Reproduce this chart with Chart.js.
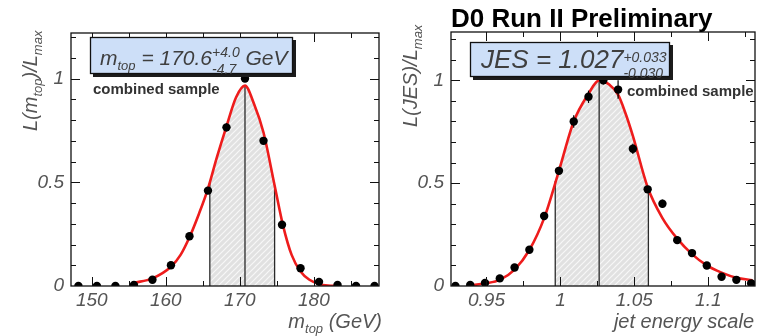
<!DOCTYPE html>
<html>
<head>
<meta charset="utf-8">
<title>D0 top mass / JES likelihood</title>
<script src="https://cdn.jsdelivr.net/npm/chart.js@4.4.1/dist/chart.umd.min.js"></script>
<style>
    html, body { margin: 0; padding: 0; background: #fff; }
    #wrap { position: relative; width: 762px; height: 336px; overflow: hidden; }
    .panel { position: absolute; top: 0; height: 336px; }
    #left { left: 0; width: 390px; }
    #right { left: 390px; width: 372px; }
</style>
</head>
<body>
<div id="wrap">
    <div class="panel" id="left"><canvas id="massChart" width="390" height="336"></canvas></div>
    <div class="panel" id="right"><canvas id="jesChart" width="372" height="336"></canvas></div>
</div>
<script>
// ---- data ----
// left panel: top mass likelihood
const massPoints = [148.2, 150.7, 153.2, 155.7, 158.2, 160.7, 163.2, 165.7, 168.2, 170.7, 173.2, 175.7, 178.2, 180.7, 183.2, 185.7, 188.2];
const massLikelihood = [0, 0, 0, 0.005, 0.03, 0.10, 0.24, 0.46, 0.765, 1.0, 0.70, 0.295, 0.086, 0.02, 0.005, 0, 0];
const massErrors = [0, 0, 0, 0, 0, 0, 0, 0, 0.02, 0, 0.01, 0, 0, 0, 0, 0, 0];
const massCurveX = [155.7, 158.2, 160.7, 162.0, 163.2, 164.5, 165.7, 166.9, 168.2, 169.5, 170.7, 171.9, 173.2, 174.7, 175.85, 177.0, 178.2, 179.4, 180.7, 181.9, 183.2];
const massCurveY = [0.015, 0.037, 0.093, 0.15, 0.235, 0.35, 0.47, 0.62, 0.77, 0.91, 0.966, 0.88, 0.74, 0.485, 0.29, 0.15, 0.07, 0.03, 0.01, 0.002, 0];
const massBand = [165.95, 170.7, 174.7];        // lower, central, upper
const massBandTop = [0.50, 0.966, 0.485];
const massTickLabels = [150, 160, 170, 180];

// right panel: jet energy scale likelihood
const jesPoints = [0.929, 0.939, 0.949, 0.959, 0.969, 0.979, 0.989, 0.999, 1.009, 1.019, 1.029, 1.039, 1.049, 1.059, 1.069, 1.079, 1.089, 1.099, 1.109, 1.119, 1.129];
const jesLikelihood = [0, 0.005, 0.015, 0.037, 0.09, 0.176, 0.34, 0.56, 0.80, 0.92, 1.0, 0.955, 0.667, 0.47, 0.40, 0.223, 0.16, 0.10, 0.045, 0.03, 0.013];
const jesErrors = [0, 0, 0, 0.01, 0.01, 0.01, 0.015, 0.02, 0.03, 0.03, 0.02, 0.045, 0.025, 0.015, 0.02, 0.015, 0.01, 0.01, 0.01, 0.01, 0.01];
const jesCurveX = [0.939, 0.949, 0.959, 0.969, 0.979, 0.989, 0.999, 1.009, 1.019, 1.0262, 1.033, 1.039, 1.044, 1.049, 1.059, 1.069, 1.079, 1.089, 1.099, 1.109, 1.119, 1.13];
const jesCurveY = [0.002, 0.013, 0.03, 0.08, 0.175, 0.33, 0.56, 0.80, 0.935, 1.0, 0.98, 0.93, 0.84, 0.73, 0.48, 0.33, 0.23, 0.155, 0.10, 0.065, 0.04, 0.028];
const jesBand = [0.9965, 1.0262, 1.0595];
const jesBandTop = [0.51, 1.0, 0.47];
const jesTickLabels = [0.95, 1, 1.05, 1.1];

const likelihoodTickLabels = [0, 0.5, 1];

// ---- style ----
const FONT = "'Liberation Sans', Arial, Helvetica, sans-serif";
const LABEL_GREY = '#555';
const TEXT_GREY = '#3f3f3f';
const BOX_BLUE = '#cddff8';
const CURVE_RED = '#ee1c1c';

Chart.defaults.font.family = FONT;

// 斜线阴影填充
function makeHatch() {
    const c = document.createElement('canvas');
    c.width = c.height = 6;
    const g = c.getContext('2d');
    g.fillStyle = '#e1e1e1';
    g.fillRect(0, 0, 6, 6);
    g.strokeStyle = '#f7f7f7';
    g.lineWidth = 1.2;
    g.beginPath();
    g.moveTo(0, 6); g.lineTo(6, 0);
    g.moveTo(-1, 1); g.lineTo(1, -1);
    g.moveTo(5, 7); g.lineTo(7, 5);
    g.stroke();
    return g.createPattern(c, 'repeat');
}

function findLabel(list, v) {
    const hit = list.find(l => Math.abs(l - v) < 1e-6);
    return hit === undefined ? '' : String(hit);
}

function toXY(xs, ys) {
    return xs.map((x, i) => ({ x: x, y: ys[i] }));
}

// shaded band: curve points inside the band plus the read edge heights
function bandData(xs, ys, band, tops) {
    const pts = [{ x: band[0], y: tops[0] }];
    xs.forEach((x, i) => { if (x > band[0] && x < band[2]) pts.push({ x: x, y: ys[i] }); });
    pts.push({ x: band[2], y: tops[2] });
    return pts;
}

// ---- rich text (sub / superscripts) ----
function runsWidth(ctx, runs) {
    let w = 0;
    runs.forEach(r => {
        ctx.font = `${r.weight || ''} ${r.italic === false ? '' : 'italic'} ${r.size}px ${FONT}`;
        if (r.sup !== undefined) {
            w += Math.max(ctx.measureText(r.sup).width, ctx.measureText(r.sub).width);
        } else {
            w += ctx.measureText(r.text).width;
        }
    });
    return w;
}

function drawRuns(ctx, x, y, runs) {
    let cx = x;
    ctx.textAlign = 'left';
    ctx.textBaseline = 'alphabetic';
    runs.forEach(r => {
        ctx.font = `${r.weight || ''} ${r.italic === false ? '' : 'italic'} ${r.size}px ${FONT}`;
        if (r.sup !== undefined) {
            ctx.fillText(r.sup, cx, y + r.supDy);
            ctx.fillText(r.sub, cx, y + r.subDy);
            cx += Math.max(ctx.measureText(r.sup).width, ctx.measureText(r.sub).width);
        } else {
            ctx.fillText(r.text, cx, y + (r.dy || 0));
            cx += ctx.measureText(r.text).width;
        }
    });
    return cx;
}

function drawRunsUp(ctx, x, y, runs) {
    ctx.save();
    ctx.translate(x, y);
    ctx.rotate(-Math.PI / 2);
    drawRuns(ctx, 0, 0, runs);
    ctx.restore();
}

function drawBox(ctx, x, y, w, h) {
    ctx.fillStyle = '#1c1c1c';
    ctx.fillRect(x + 3, y + 3, w, h);
    ctx.fillStyle = BOX_BLUE;
    ctx.fillRect(x, y, w, h);
    ctx.strokeStyle = '#111';
    ctx.lineWidth = 1.3;
    ctx.strokeRect(x + 0.5, y + 0.5, w - 1, h - 1);
}

// ---- ROOT-style frame with inward ticks and error bars ----
const rootFrame = {
    id: 'rootFrame',
    afterDatasetsDraw(chart) {
        const { ctx, chartArea: a, scales: { x, y } } = chart;
        ctx.save();

        // error bars
        const errs = chart.options.plugins.rootFrame.errors;
        const pts = chart.data.datasets[0].data;
        ctx.strokeStyle = '#000';
        ctx.lineWidth = 1.2;
        pts.forEach((p, i) => {
            if (!errs[i]) return;
            const px = x.getPixelForValue(p.x);
            ctx.beginPath();
            ctx.moveTo(px, y.getPixelForValue(p.y - errs[i]));
            ctx.lineTo(px, y.getPixelForValue(p.y + errs[i]));
            ctx.stroke();
        });

        ctx.beginPath();
        ctx.rect(a.left, a.top, a.width, a.height);
        ctx.clip();
        ctx.strokeStyle = '#111';
        ctx.lineWidth = 1;
        ctx.beginPath();
        x.ticks.forEach(t => {
            const px = Math.round(x.getPixelForValue(t.value)) + 0.5;
            const len = t.label !== '' ? 9 : 5;
            ctx.moveTo(px, a.bottom); ctx.lineTo(px, a.bottom - len);
            ctx.moveTo(px, a.top); ctx.lineTo(px, a.top + len);
        });
        y.ticks.forEach(t => {
            const py = Math.round(y.getPixelForValue(t.value)) + 0.5;
            const len = t.label !== '' ? 9 : 5;
            ctx.moveTo(a.left, py); ctx.lineTo(a.left + len, py);
            ctx.moveTo(a.right, py); ctx.lineTo(a.right - len, py);
        });
        ctx.stroke();
        ctx.restore();

        ctx.save();
        ctx.strokeStyle = '#111';
        ctx.lineWidth = 1.3;
        ctx.strokeRect(a.left, a.top, a.width, a.height);
        ctx.restore();
    }
};

// ---- chart builder ----
function buildPanel(canvasId, cfg) {
    const hatch = makeHatch();
    const vLines = cfg.band.map((bx, i) => ({
        data: [{ x: bx, y: 0 }, { x: bx, y: cfg.bandTop[i] }],
        borderColor: '#2a2a2a',
        borderWidth: 1.3,
        pointRadius: 0,
        fill: false,
        tension: 0,
        order: 2
    }));

    return new Chart(document.getElementById(canvasId), {
        type: 'line',
        data: {
            datasets: [{
                data: toXY(cfg.points, cfg.values),
                showLine: false,
                pointRadius: 4.2,
                pointBackgroundColor: '#000',
                pointBorderColor: '#000',
                pointBorderWidth: 0,
                order: 0
            }, {
                data: toXY(cfg.curveX, cfg.curveY),
                borderColor: CURVE_RED,
                borderWidth: 2.6,
                pointRadius: 0,
                fill: false,
                cubicInterpolationMode: 'monotone',
                order: 1
            },
            ...vLines,
            {
                data: bandData(cfg.curveX, cfg.curveY, cfg.band, cfg.bandTop),
                borderWidth: 0,
                borderColor: 'rgba(0,0,0,0)',
                backgroundColor: hatch,
                pointRadius: 0,
                fill: 'origin',
                cubicInterpolationMode: 'monotone',
                order: 3
            }]
        },
        options: {
            responsive: false,
            animation: false,
            events: [],
            layout: { padding: cfg.padding },
            plugins: {
                legend: { display: false },
                tooltip: { enabled: false },
                rootFrame: { errors: cfg.errors }
            },
            scales: {
                x: {
                    type: 'linear',
                    min: cfg.xMin,
                    max: cfg.xMax,
                    grid: { display: false, drawTicks: false },
                    border: { display: false },
                    ticks: {
                        stepSize: cfg.xStep,
                        autoSkip: false,
                        includeBounds: false,
                        maxRotation: 0,
                        padding: 3,
                        color: LABEL_GREY,
                        font: { size: 19, style: 'italic' },
                        callback: v => findLabel(cfg.xLabels, v)
                    },
                    afterFit: s => { s.height = 50; }
                },
                y: {
                    min: 0,
                    max: cfg.yMax,
                    grid: { display: false, drawTicks: false },
                    border: { display: false },
                    ticks: {
                        stepSize: 0.1,
                        autoSkip: false,
                        includeBounds: false,
                        padding: 7,
                        color: LABEL_GREY,
                        font: { size: 19, style: 'italic' },
                        callback: v => findLabel(likelihoodTickLabels, v)
                    },
                    afterFit: s => { s.width = cfg.yWidth; }
                }
            }
        },
        plugins: [rootFrame, { id: 'annotations', afterDraw: cfg.annotate }]
    });
}

// 左图：顶夸克质量
buildPanel('massChart', {
    points: massPoints, values: massLikelihood, errors: massErrors,
    curveX: massCurveX, curveY: massCurveY,
    band: massBand, bandTop: massBandTop,
    xMin: 147.2, xMax: 188.8, xStep: 5, xLabels: massTickLabels,
    yMax: 1.22, yWidth: 71,
    padding: { top: 33, right: 11, left: 0, bottom: 0 },
    annotate(chart) {
        const ctx = chart.ctx;
        ctx.save();
        drawBox(ctx, 90, 37, 203, 37);
        ctx.fillStyle = TEXT_GREY;
        drawRuns(ctx, 100, 65, [
            { text: 'm', size: 21 },
            { text: 'top', size: 13, dy: 5 },
            { text: ' = 170.6', size: 21 },
            { sup: '+4.0', sub: '-4.7', size: 14, supDy: -8.5, subDy: 8.5 },
            { text: ' GeV', size: 21 }
        ]);
        ctx.fillStyle = '#333';
        ctx.font = `bold 15px ${FONT}`;
        ctx.textAlign = 'left';
        ctx.fillText('combined sample', 93, 94);

        ctx.fillStyle = LABEL_GREY;
        drawRunsUp(ctx, 37, 131, [
            { text: 'L(m', size: 20 },
            { text: 'top', size: 13, dy: 5 },
            { text: ')/L', size: 20 },
            { text: 'max', size: 13, dy: 5 }
        ]);
        const xTitle = [
            { text: 'm', size: 20 },
            { text: 'top', size: 13, dy: 5 },
            { text: ' (GeV)', size: 20 }
        ];
        drawRuns(ctx, 382 - runsWidth(ctx, xTitle), 328, xTitle);
        ctx.restore();
    }
});

// 右图：喷注能标
buildPanel('jesChart', {
    points: jesPoints, values: jesLikelihood, errors: jesErrors,
    curveX: jesCurveX, curveY: jesCurveY,
    band: jesBand, bandTop: jesBandTop,
    xMin: 0.926, xMax: 1.1316, xStep: 0.025, xLabels: jesTickLabels,
    yMax: 1.235, yWidth: 61,
    padding: { top: 32, right: 7, left: 0, bottom: 0 },
    annotate(chart) {
        const ctx = chart.ctx;
        ctx.save();
        ctx.fillStyle = '#000';
        ctx.font = `bold 26px ${FONT}`;
        ctx.textAlign = 'left';
        ctx.textBaseline = 'alphabetic';
        ctx.fillText('D0 Run II Preliminary', 61, 27);

        drawBox(ctx, 80, 42, 200, 35);
        ctx.fillStyle = TEXT_GREY;
        drawRuns(ctx, 91, 68, [
            { text: 'JES = 1.027', size: 26 },
            { sup: '+0.033', sub: '-0.030', size: 14, supDy: -6, subDy: 10 }
        ]);
        ctx.fillStyle = '#333';
        ctx.font = `bold 15px ${FONT}`;
        ctx.textAlign = 'left';
        ctx.fillText('combined sample', 237, 96);

        ctx.fillStyle = LABEL_GREY;
        drawRunsUp(ctx, 27, 127, [
            { text: 'L(JES)/L', size: 20 },
            { text: 'max', size: 13, dy: 5 }
        ]);
        const xTitle = [{ text: 'jet energy scale', size: 20 }];
        drawRuns(ctx, 364 - runsWidth(ctx, xTitle), 328, xTitle);
        ctx.restore();
    }
});
</script>
</body>
</html>
